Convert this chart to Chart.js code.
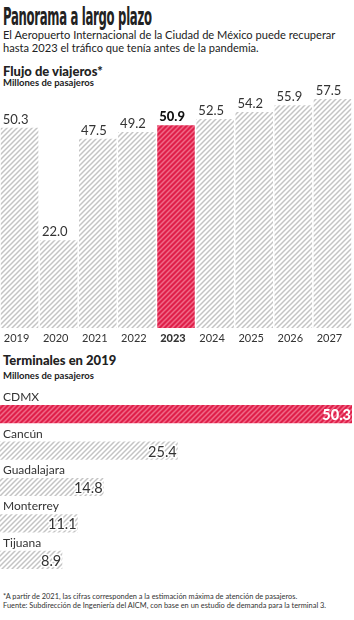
<!DOCTYPE html>
<html>
<head>
<meta charset="utf-8">
<script src="https://cdn.jsdelivr.net/npm/chart.js@4.4.0/dist/chart.umd.min.js"></script>
<style>
  body { margin: 0; background: #fff; font-family: Lato, "Open Sans", sans-serif; color: #222; }
  #wrap { position: relative; width: 354px; height: 620px; overflow: hidden; }
  .t { position: absolute; left: 3px; white-space: nowrap; }
  #title { top: 2px; font-family: "DejaVu Sans Condensed", sans-serif; font-weight: bold; font-size: 25px; letter-spacing: -0.6px; transform: scaleX(0.52); transform-origin: left; }
  .sub { font-size: 11.1px; line-height: 13px; color: #222; }
  .head { font-weight: 900; font-size: 13px; }
  .unit { font-weight: bold; font-size: 9.5px; }
  .note { font-size: 7.4px; line-height: 9px; color: #333; }
  canvas { position: absolute; left: 0; }
</style>
</head>
<body>
<div id="wrap">
  <div class="t" id="title">Panorama a largo plazo</div>
  <div class="t sub" style="top:28px">El Aeropuerto Internacional de la Ciudad de México puede recuperar<br>hasta 2023 el tráfico que tenía antes de la pandemia.</div>
  <div class="t head" style="top:63px">Flujo de viajeros*</div>
  <div class="t unit" style="top:77px">Millones de pasajeros</div>
  <div class="t head" style="top:352px">Terminales en 2019</div>
  <div class="t unit" style="top:370px">Millones de pasajeros</div>
  <div class="t note" style="top:592px">*A partir de 2021, las cifras corresponden a la estimación máxima de atención de pasajeros.<br>Fuente: Subdirección de Ingeniería del AICM, con base en un estudio de demanda para la terminal 3.</div>
  <div style="position:absolute;top:70px;left:0;width:354px;height:280px"><canvas id="flujo"></canvas></div>
  <div style="position:absolute;top:386px;left:0;width:354px;height:196px"><canvas id="terminales"></canvas></div>
</div>
<script>
const years = ["2019", "2020", "2021", "2022", "2023", "2024", "2025", "2026", "2027"];
const viajeros = [50.3, 22.0, 47.5, 49.2, 50.9, 52.5, 54.2, 55.9, 57.5];
const highlightYear = "2023";

const terminales = ["CDMX", "Cancún", "Guadalajara", "Monterrey", "Tijuana"];
const pasajeros2019 = [50.3, 25.4, 14.8, 11.1, 8.9];
const highlightTerminal = "CDMX";

function hatch(bg, line) {
  const s = 5;
  const c = document.createElement("canvas");
  c.width = s;
  c.height = s;
  const ctx = c.getContext("2d");
  ctx.fillStyle = bg;
  ctx.fillRect(0, 0, s, s);
  ctx.strokeStyle = line;
  ctx.lineWidth = 1.5;
  ctx.beginPath();
  ctx.moveTo(-1, s + 1); ctx.lineTo(s + 1, -1);
  ctx.moveTo(-1, 1); ctx.lineTo(1, -1);
  ctx.moveTo(s - 1, s + 1); ctx.lineTo(s + 1, s - 1);
  ctx.stroke();
  return ctx.createPattern(c, "repeat");
}
const grayHatch = hatch("#ffffff", "#c4c4c4");
const redHatch = hatch("#df1f4a", "#f06a88");

// value labels + year labels for the column chart
const columnLabels = {
  id: "columnLabels",
  afterDatasetsDraw(chart) {
    const ctx = chart.ctx;
    const bars = chart.getDatasetMeta(0).data;
    ctx.save();
    bars.forEach((bar, i) => {
      const left = bar.x - bar.width / 2;
      const hi = years[i] === highlightYear;
      ctx.textAlign = "left";
      ctx.textBaseline = "alphabetic";
      ctx.fillStyle = hi ? "#111" : "#333";
      ctx.font = (hi ? "900 " : "400 ") + "13px Lato";
      ctx.fillText(viajeros[i].toFixed(1), left + 2, bar.y - 4);
      ctx.font = (hi ? "900 " : "400 ") + "11px Lato";
      ctx.fillStyle = "#333";
      ctx.fillText(years[i], left + 3, chart.chartArea.bottom + 14);
    });
    ctx.restore();
  },
};

new Chart(document.querySelector("#flujo"), {
  type: "bar",
  data: {
    labels: years,
    datasets: [
      {
        data: viajeros,
        backgroundColor: years.map((y) => (y === highlightYear ? redHatch : grayHatch)),
        borderWidth: 0,
        barPercentage: 0.96,
        categoryPercentage: 1,
      },
    ],
  },
  options: {
    responsive: true,
    maintainAspectRatio: false,
    animation: false,
    layout: { padding: { top: 19, bottom: 22, left: 0, right: 2 } },
    plugins: { legend: { display: false }, tooltip: { enabled: false } },
    scales: {
      x: { display: false },
      y: { display: false, min: 0, max: 60 },
    },
  },
  plugins: [columnLabels],
});

// category names above bars, values at bar end
const rowLabels = {
  id: "rowLabels",
  afterDatasetsDraw(chart) {
    const ctx = chart.ctx;
    const bars = chart.getDatasetMeta(0).data;
    ctx.save();
    bars.forEach((bar, i) => {
      const top = bar.y - bar.height / 2;
      const hi = terminales[i] === highlightTerminal;
      ctx.textBaseline = "alphabetic";
      ctx.textAlign = "left";
      ctx.font = "400 12px Lato";
      ctx.fillStyle = "#333";
      ctx.fillText(terminales[i], 3, top - 4);
      ctx.textAlign = "right";
      ctx.font = (hi ? "900 " : "400 ") + "14.5px Lato";
      const tx = bar.x - 1;
      const ty = bar.y + 6;
      if (!hi) {
        ctx.strokeStyle = "#fff";
        ctx.lineWidth = 3;
        ctx.lineJoin = "round";
        ctx.strokeText(pasajeros2019[i].toFixed(1), tx, ty);
      }
      ctx.fillStyle = hi ? "#fff" : "#333";
      ctx.fillText(pasajeros2019[i].toFixed(1), tx, ty);
    });
    ctx.restore();
  },
};

new Chart(document.querySelector("#terminales"), {
  type: "bar",
  data: {
    labels: terminales,
    datasets: [
      {
        data: pasajeros2019,
        backgroundColor: terminales.map((t) => (t === highlightTerminal ? redHatch : grayHatch)),
        borderWidth: 0,
        barPercentage: 0.5,
        categoryPercentage: 1,
      },
    ],
  },
  options: {
    indexAxis: "y",
    responsive: true,
    maintainAspectRatio: false,
    animation: false,
    layout: { padding: { top: 10, bottom: 4, left: 0, right: 2 } },
    plugins: { legend: { display: false }, tooltip: { enabled: false } },
    scales: {
      x: { display: false, min: 0, max: 50.3 },
      y: { display: false },
    },
  },
  plugins: [rowLabels],
});
</script>
</body>
</html>
